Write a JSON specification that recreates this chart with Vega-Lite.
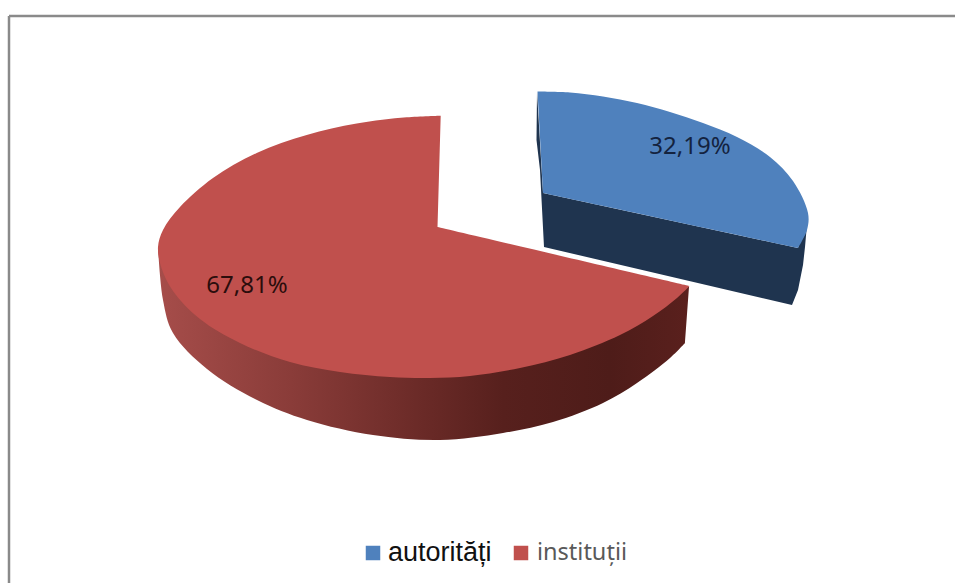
{"$schema":"https://vega.github.io/schema/vega-lite/v6.json","width":955,"height":583,"padding":0,"autosize":{"type":"none"},"background":"white","view":{"stroke":null},
"datasets":{"outline":[
{"part":"side","series":"autorități","i":0,"x":537,"y":92},{"part":"side","series":"autorități","i":1,"x":536.5,"y":140},{"part":"side","series":"autorități","i":2,"x":540,"y":170},{"part":"side","series":"autorități","i":3,"x":544,"y":247},{"part":"side","series":"autorități","i":4,"x":792,"y":305},{"part":"side","series":"autorități","i":5,"x":798,"y":290},{"part":"side","series":"autorități","i":6,"x":803,"y":265},{"part":"side","series":"autorități","i":7,"x":805,"y":247},{"part":"side","series":"autorități","i":8,"x":808,"y":213},{"part":"side","series":"autorități","i":9,"x":798,"y":248},{"part":"side","series":"autorități","i":10,"x":543,"y":193},
{"part":"top","series":"autorități","i":0,"x":537.5,"y":91.5},{"part":"top","series":"autorități","i":1,"x":570,"y":92.5},{"part":"top","series":"autorități","i":2,"x":603,"y":96.5},{"part":"top","series":"autorități","i":3,"x":637,"y":103},{"part":"top","series":"autorități","i":4,"x":670,"y":112},{"part":"top","series":"autorități","i":5,"x":703,"y":123},{"part":"top","series":"autorități","i":6,"x":737,"y":137},{"part":"top","series":"autorități","i":7,"x":770,"y":157},{"part":"top","series":"autorități","i":8,"x":793,"y":181},{"part":"top","series":"autorități","i":9,"x":808,"y":213},{"part":"top","series":"autorități","i":10,"x":807,"y":230},{"part":"top","series":"autorități","i":11,"x":798,"y":248},{"part":"top","series":"autorități","i":12,"x":798,"y":248},{"part":"top","series":"autorități","i":13,"x":543,"y":193},
{"part":"side","series":"instituții","i":0,"x":158,"y":247},{"part":"side","series":"instituții","i":1,"x":163,"y":300},{"part":"side","series":"instituții","i":2,"x":173,"y":333},{"part":"side","series":"instituții","i":3,"x":207,"y":369},{"part":"side","series":"instituții","i":4,"x":257,"y":400},{"part":"side","series":"instituții","i":5,"x":307,"y":420},{"part":"side","series":"instituții","i":6,"x":373,"y":435},{"part":"side","series":"instituții","i":7,"x":440,"y":440},{"part":"side","series":"instituții","i":8,"x":503,"y":433},{"part":"side","series":"instituții","i":9,"x":553,"y":422},{"part":"side","series":"instituții","i":10,"x":603,"y":403},{"part":"side","series":"instituții","i":11,"x":637,"y":383},{"part":"side","series":"instituții","i":12,"x":670,"y":358},{"part":"side","series":"instituții","i":13,"x":685,"y":343},{"part":"side","series":"instituții","i":14,"x":685,"y":343},{"part":"side","series":"instituții","i":15,"x":689,"y":287},{"part":"side","series":"instituții","i":16,"x":689,"y":287},{"part":"side","series":"instituții","i":17,"x":438,"y":300},
{"part":"top","series":"instituții","i":0,"x":440.7,"y":115.7},{"part":"top","series":"instituții","i":1,"x":406.7,"y":117.3},{"part":"top","series":"instituții","i":2,"x":356.7,"y":123.5},{"part":"top","series":"instituții","i":3,"x":306.7,"y":135},{"part":"top","series":"instituții","i":4,"x":256.7,"y":153},{"part":"top","series":"instituții","i":5,"x":213,"y":178},{"part":"top","series":"instituții","i":6,"x":180,"y":207},{"part":"top","series":"instituții","i":7,"x":163,"y":230},{"part":"top","series":"instituții","i":8,"x":158,"y":247},{"part":"top","series":"instituții","i":9,"x":161.5,"y":268},{"part":"top","series":"instituții","i":10,"x":173,"y":291},{"part":"top","series":"instituții","i":11,"x":200,"y":319},{"part":"top","series":"instituții","i":12,"x":240,"y":343},{"part":"top","series":"instituții","i":13,"x":290,"y":362},{"part":"top","series":"instituții","i":14,"x":340,"y":372},{"part":"top","series":"instituții","i":15,"x":390,"y":377},{"part":"top","series":"instituții","i":16,"x":430,"y":378},{"part":"top","series":"instituții","i":17,"x":470,"y":376},{"part":"top","series":"instituții","i":18,"x":520,"y":368},{"part":"top","series":"instituții","i":19,"x":570,"y":355},{"part":"top","series":"instituții","i":20,"x":620,"y":335},{"part":"top","series":"instituții","i":21,"x":653,"y":316},{"part":"top","series":"instituții","i":22,"x":677,"y":298},{"part":"top","series":"instituții","i":23,"x":689.5,"y":286},{"part":"top","series":"instituții","i":24,"x":689.5,"y":286},{"part":"top","series":"instituții","i":25,"x":437.5,"y":227}
],
"shares":[{"series":"autorități","share":"32,19%","x":690,"y":147},{"series":"instituții","share":"67,81%","x":247,"y":286}],
"key":[{"series":"autorități","sx":373,"tx":388,"y":553},{"series":"instituții","sx":521,"tx":537,"y":553}],
"frame":[{"x":0,"y":16,"x1":9,"x2":955,"y1":16},{"x":9,"y":16,"x1":9,"x2":9,"y1":583}]},
"encoding":{"x":{"field":"x","type":"quantitative","scale":{"domain":[0,955],"nice":false,"zero":false},"axis":null},"y":{"field":"y","type":"quantitative","scale":{"domain":[583,0],"nice":false,"zero":false},"axis":null}},
"layer":[
{"data":{"name":"outline"},"transform":[{"filter":"datum.part==='side' && datum.series==='autorități'"}],"mark":{"type":"line","fill":"#1f344f","strokeWidth":0},"encoding":{"order":{"field":"i"}}},
{"data":{"name":"outline"},"transform":[{"filter":"datum.part==='top' && datum.series==='autorități'"}],"mark":{"type":"line","strokeWidth":0,"interpolate":"catmull-rom"},"encoding":{"order":{"field":"i"},"fill":{"field":"series","type":"nominal","scale":{"domain":["autorități","instituții"],"range":["#4f81bd","#c0504d"]},"legend":null}}},
{"data":{"name":"outline"},"transform":[{"filter":"datum.part==='side' && datum.series==='instituții'"}],"mark":{"type":"line","strokeWidth":0,"interpolate":"catmull-rom","fill":{"gradient":"linear","x1":0,"x2":1,"y1":0,"y2":0,"stops":[{"offset":0,"color":"#a64d4a"},{"offset":0.25,"color":"#8a3c39"},{"offset":0.5,"color":"#6a2a27"},{"offset":0.65,"color":"#57201d"},{"offset":0.85,"color":"#4e1c19"},{"offset":1,"color":"#5a201d"}]}},"encoding":{"order":{"field":"i"}}},
{"data":{"name":"outline"},"transform":[{"filter":"datum.part==='top' && datum.series==='instituții'"}],"mark":{"type":"line","strokeWidth":0,"interpolate":"catmull-rom"},"encoding":{"order":{"field":"i"},"fill":{"field":"series","type":"nominal","legend":null}}},
{"data":{"name":"shares"},"mark":{"type":"text","font":"Noto Sans","fontSize":24},"encoding":{"text":{"field":"share"},"color":{"condition":{"test":"datum.series==='autorități'","value":"#14233f"},"value":"#2b0d0c"}}},
{"data":{"name":"key"},"mark":{"type":"square","size":210,"opacity":1},"encoding":{"x":{"field":"sx","type":"quantitative"},"y":{"field":"y","type":"quantitative"},"fill":{"field":"series","type":"nominal","legend":null}}},
{"data":{"name":"key"},"transform":[{"filter":"datum.series==='autorități'"}],"mark":{"type":"text","align":"left","font":"Liberation Sans","fontSize":27,"color":"#111111"},"encoding":{"x":{"field":"tx","type":"quantitative"},"y":{"field":"y","type":"quantitative"},"text":{"field":"series"}}},
{"data":{"name":"key"},"transform":[{"filter":"datum.series==='instituții'"}],"mark":{"type":"text","align":"left","font":"Noto Sans","fontSize":23.5,"color":"#595959"},"encoding":{"x":{"field":"tx","type":"quantitative"},"y":{"field":"y","type":"quantitative"},"text":{"field":"series"}}},
{"data":{"name":"frame"},"mark":{"type":"rule","color":"#8a8a8a","strokeWidth":2.5},"encoding":{"x":{"field":"x1","type":"quantitative"},"x2":{"field":"x2"},"y":{"field":"y1","type":"quantitative"},"y2":{"field":"y"}}}
]}
